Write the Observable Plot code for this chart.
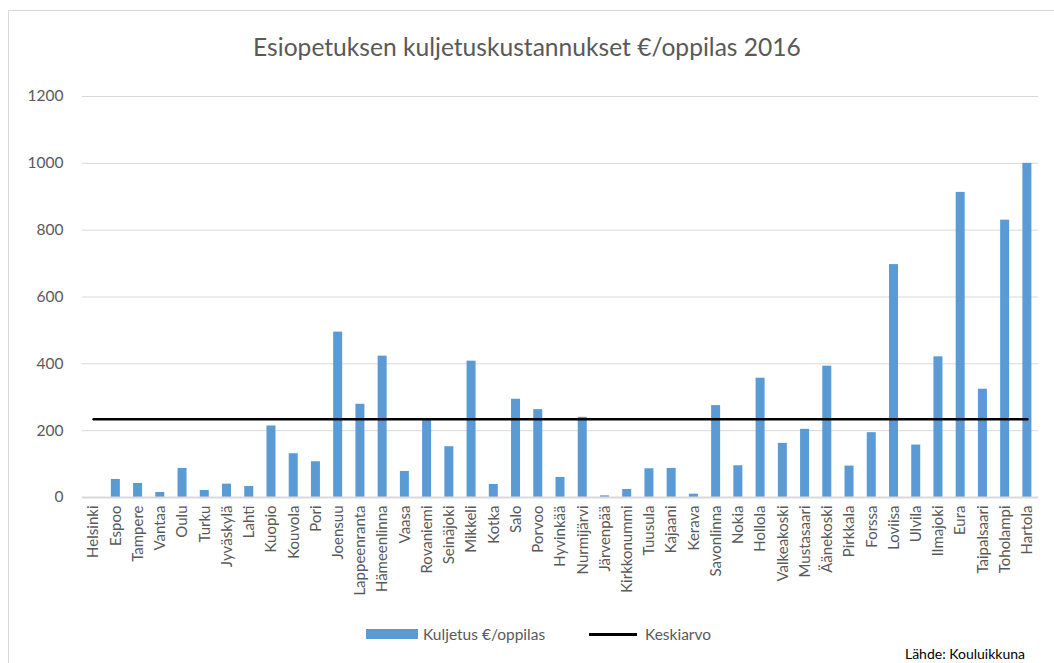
<!DOCTYPE html>
<html>
<head>
<meta charset="utf-8">
<script src="https://cdn.jsdelivr.net/npm/d3@7"></script>
<script src="https://cdn.jsdelivr.net/npm/@observablehq/plot@0.6"></script>
<style>
  html, body { margin: 0; padding: 0; background: #fff; overflow: hidden; }
  #wrap { position: relative; width: 1054px; height: 663px; font-family: Lato, "Open Sans", sans-serif; color: #595959; }
  #frame { position: absolute; left: 8px; top: 10px; width: 1100px; height: 700px; border: 1px solid #d9d9d9; box-sizing: border-box; }
  #title { position: relative; height: 80px; text-align: center; font-size: 24.6px; line-height: 20px; padding-top: 37px; box-sizing: border-box; }
  #chart { position: relative; height: 530px; }
  #legend { position: relative; height: 53px; }
  .lg { position: absolute; top: 13px; font-size: 15.5px; line-height: 18px; }
  #source { position: absolute; right: 29px; top: 35px; font-size: 14px; color: #000; }
</style>
</head>
<body>
<div id="wrap">
  <div id="frame"></div>
  <div id="title">Esiopetuksen kuljetuskustannukset €/oppilas 2016</div>
  <div id="chart"></div>
  <div id="legend">
    <div class="lg" style="left:366px;"><span style="display:inline-block;width:52px;height:10px;background:#5b9bd5;vertical-align:middle;margin-right:5px;"></span><span style="vertical-align:middle;">Kuljetus €/oppilas</span></div>
    <div class="lg" style="left:589px;"><span style="display:inline-block;width:48px;height:3px;background:#000;vertical-align:middle;margin-right:8px;"></span><span style="vertical-align:middle;">Keskiarvo</span></div>
    <div id="source">Lähde: Kouluikkuna</div>
  </div>
</div>
<script>
const cities = ["Helsinki","Espoo","Tampere","Vantaa","Oulu","Turku","Jyväskylä","Lahti","Kuopio","Kouvola","Pori","Joensuu","Lappeenranta","Hämeenlinna","Vaasa","Rovaniemi","Seinäjoki","Mikkeli","Kotka","Salo","Porvoo","Hyvinkää","Nurmijärvi","Järvenpää","Kirkkonummi","Tuusula","Kajaani","Kerava","Savonlinna","Nokia","Hollola","Valkeakoski","Mustasaari","Äänekoski","Pirkkala","Forssa","Loviisa","Ulvila","Ilmajoki","Eura","Taipalsaari","Toholampi","Hartola"];
const costs = [0,54,42,15,87,21,40,33,214,131,107,495,279,423,78,234,152,408,39,294,263,60,240,5,24,86,87,10,275,95,357,162,204,393,94,194,697,157,421,913,324,830,1000];
const average = 234;
const yTicks = [0,200,400,600,800,1000,1200];

const rows = cities.map((c, i) => ({city: c, cost: costs[i], avg: average}));

const chart = Plot.plot({
  width: 1054,
  height: 530,
  marginTop: 16,
  marginBottom: 113,
  marginLeft: 82,
  marginRight: 16,
  style: {fontFamily: "Lato, 'Open Sans', sans-serif", color: "#595959", background: "transparent"},
  x: {domain: cities, paddingInner: 0.595, paddingOuter: 0.2975, round: false, label: null},
  y: {domain: [0, 1200], label: null},
  marks: [
    Plot.gridY(yTicks, {stroke: "#d9d9d9", strokeOpacity: 1, strokeWidth: 1}),
    Plot.axisY(yTicks, {tickSize: 0, tickPadding: 19, fontSize: 15.5, label: null, fill: "#595959", tickFormat: d => String(d)}),
    Plot.axisX({tickSize: 0, tickPadding: 8, tickRotate: -90, fontSize: 15, label: null, fill: "#595959"}),
    Plot.barY(rows, {x: "city", y: "cost", fill: "#5b9bd5"}),
    Plot.ruleY([0], {stroke: "#d9d9d9", strokeWidth: 2}),
    Plot.lineY(rows, {x: "city", y: "avg", stroke: "#000", strokeWidth: 2.5})
  ]
});
document.getElementById("chart").appendChild(chart);
</script>
</body>
</html>
